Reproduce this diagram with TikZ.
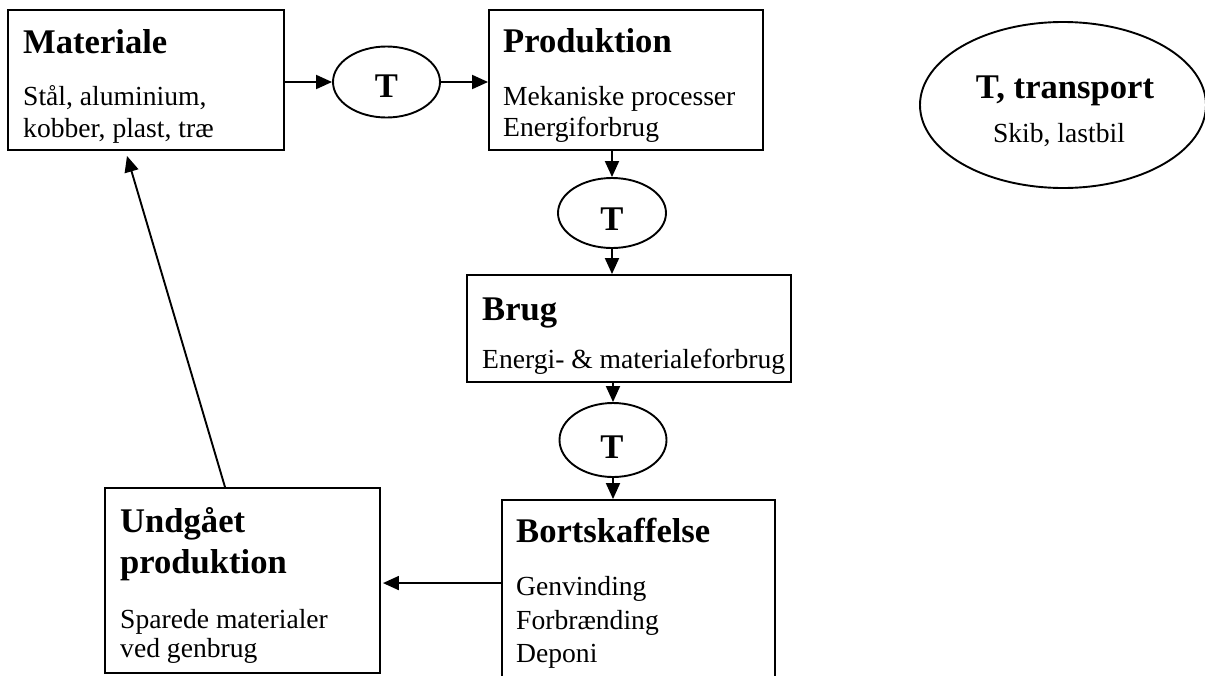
\documentclass[tikz,border=0pt]{standalone}
\usepackage{fontspec}
\setmainfont{Liberation Serif}
\usetikzlibrary{arrows.meta,shapes.geometric}
\begin{document}
\begin{tikzpicture}[x=1pt,y=-1pt,
  box/.style={draw, line width=1.9pt, rectangle, inner sep=0pt, fill=white},
  oval/.style={draw, line width=1.9pt, ellipse, inner sep=0pt},
  head/.style={font=\fontsize{34.6}{40}\selectfont\bfseries, inner sep=0pt, anchor=base west},
  body/.style={font=\fontsize{27.6}{32}\selectfont, inner sep=0pt, anchor=base west},
  ohead/.style={font=\fontsize{34.6}{40}\selectfont\bfseries, inner sep=0pt, anchor=base},
  obody/.style={font=\fontsize{27.6}{32}\selectfont, inner sep=0pt, anchor=base},
  arr/.style={line width=1.9pt, -{Triangle[length=16pt,width=14pt]}}]
\useasboundingbox (0,0) rectangle (1205,675);
\clip (0,0) rectangle (1205,675);

% boxes
\node[box, minimum width=276pt, minimum height=140pt] (mat) at (146,80) {};
\node[box, minimum width=274pt, minimum height=140pt] (prod) at (626,80) {};
\node[box, minimum width=324pt, minimum height=107pt] (brug) at (629,328.5) {};
\node[box, minimum width=273pt, minimum height=200pt] (bort) at (638.5,600) {};
\node[box, minimum width=275pt, minimum height=185pt] (und) at (242.5,580.5) {};

% ellipses
\node[oval, minimum width=107pt, minimum height=71pt] (t1) at (386.5,82) {};
\node[oval, minimum width=108pt, minimum height=70pt] (t2) at (612,213) {};
\node[oval, minimum width=107pt, minimum height=74pt] (t3) at (613,440) {};
\node[oval, minimum width=286pt, minimum height=166pt] (tbig) at (1063,105) {};

% texts
\node[head] (matH) at (23,53) {Materiale};
\node[body] (matB1) at (23,105) {Stål, aluminium,};
\node[body] (matB2) at (23,137) {kobber, plast, træ};

\node[head] (prodH) at (503,52) {Produktion};
\node[body] (prodB1) at (503,105) {Mekaniske processer};
\node[body] (prodB2) at (503,136) {Energiforbrug};

\node[head] (brugH) at (482,320) {Brug};
\node[body] (brugB1) at (482,368) {Energi- \& materialeforbrug};

\node[head] (bortH) at (516,542) {Bortskaffelse};
\node[body] (bortB1) at (516,595) {Genvinding};
\node[body] (bortB2) at (516,629) {Forbrænding};
\node[body] (bortB3) at (516,662) {Deponi};

\node[head] (undH1) at (120,532) {Undgået};
\node[head] (undH2) at (120,573) {produktion};
\node[body] (undB1) at (120,628) {Sparede materialer};
\node[body] (undB2) at (120,657) {ved genbrug};

\node[ohead] (t1T) at (386.5,97) {T};
\node[ohead] (t2T) at (612,230) {T};
\node[ohead] (t3T) at (612,458) {T};
\node[ohead] (tbigH) at (1065,98) {T, transport};
\node[obody] (tbigB) at (1059,142) {Skib, lastbil};

% connectors
\draw[arr] (t1.west -| mat.east) -- (t1.west);
\draw[arr] (t1.east) -- (t1.east -| prod.west);
\draw[arr] (t2.north |- prod.south) -- (t2.north);
\draw[arr] (t2.south) -- (t2.south |- brug.north);
\draw[arr] (t3.north |- brug.south) -- (t3.north);
\draw[arr] (t3.south) -- (t3.south |- bort.north);
\coordinate (hb) at ([yshift=-84pt]bort.north west);
\draw[arr] (hb) -- ([xshift=2pt]hb -| und.east);
\draw[arr] ([xshift=-17.5pt]und.north) -- ([xshift=-19pt,yshift=-5pt]mat.south);
\end{tikzpicture}
\end{document}
